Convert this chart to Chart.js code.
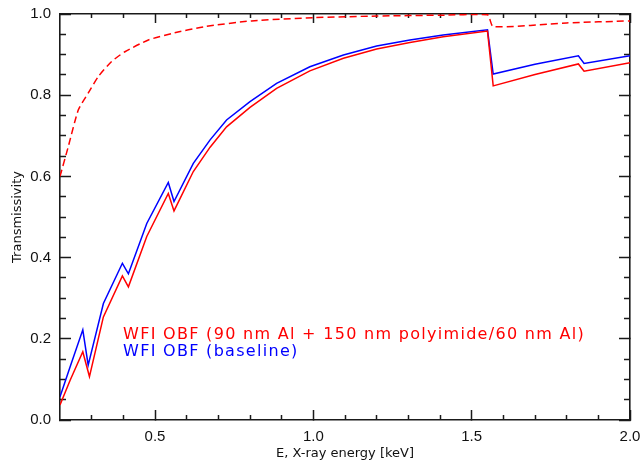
<!DOCTYPE html>
<html>
<head>
<meta charset="utf-8">
<script src="https://cdn.jsdelivr.net/npm/chart.js@4.4.1/dist/chart.umd.min.js"></script>
<style>
  html, body { margin: 0; padding: 0; background: #fff; }
</style>
</head>
<body>
<canvas id="chart" width="643" height="461"></canvas>
<script>
// baseline filter (blue)
const energyBase = [0.2, 0.232, 0.272, 0.289, 0.337, 0.397, 0.416, 0.474, 0.542, 0.56, 0.621, 0.674, 0.726, 0.8, 0.884, 0.989, 1.095, 1.2, 1.305, 1.41, 1.55, 1.568, 1.7, 1.837, 1.855, 2.0];
const transBase  = [0.057, 0.131, 0.222, 0.135, 0.287, 0.386, 0.36, 0.484, 0.585, 0.538, 0.632, 0.69, 0.739, 0.784, 0.829, 0.87, 0.899, 0.921, 0.936, 0.948, 0.961, 0.852, 0.876, 0.897, 0.878, 0.897];

// 90 nm Al + 150 nm polyimide / 60 nm Al (red solid)
const energyAlt = [0.2, 0.232, 0.272, 0.293, 0.337, 0.397, 0.416, 0.474, 0.542, 0.56, 0.621, 0.674, 0.726, 0.8, 0.884, 0.989, 1.095, 1.2, 1.305, 1.41, 1.55, 1.568, 1.7, 1.837, 1.855, 2.0];
const transAlt   = [0.037, 0.098, 0.168, 0.107, 0.254, 0.355, 0.328, 0.452, 0.558, 0.515, 0.612, 0.672, 0.722, 0.77, 0.817, 0.86, 0.891, 0.914, 0.93, 0.944, 0.958, 0.823, 0.851, 0.877, 0.859, 0.88];

// red dashed curve (no legend entry)
const energyDash = [0.2, 0.226, 0.258, 0.289, 0.321, 0.363, 0.405, 0.479, 0.553, 0.658, 0.805, 1.0, 1.2, 1.4, 1.55, 1.568, 1.8, 2.0];
const transDash  = [0.6, 0.673, 0.764, 0.805, 0.846, 0.883, 0.907, 0.936, 0.952, 0.969, 0.983, 0.991, 0.995, 0.997, 0.998, 0.969, 0.978, 0.983];

const xMin = 0.2, xMax = 2.0, yMin = 0, yMax = 1;
const xTicks = [0.5, 1.0, 1.5, 2.0];
const yTicks = [0.0, 0.2, 0.4, 0.6, 0.8, 1.0];
const xMinorTicks = [0.3, 0.4, 0.6, 0.7, 0.8, 0.9, 1.1, 1.2, 1.3, 1.4, 1.6, 1.7, 1.8, 1.9];
const yMinorTicks = [0.05, 0.1, 0.15, 0.25, 0.3, 0.35, 0.45, 0.5, 0.55, 0.65, 0.7, 0.75, 0.85, 0.9, 0.95];

const legendLabels = ["WFI OBF (90 nm Al + 150 nm polyimide/60 nm Al)", "WFI OBF (baseline)"];
const legendColors = ["#ff0000", "#0000ff"];

const pts = (xs, ys) => xs.map((x, i) => ({ x: x, y: ys[i] }));
const axisColor = "#1a1a1a";
const labelFont = { family: "'Liberation Sans'", size: 15 };

// one axis of the IDL box: inward ticks (negative tickLength), optional labels
function boxAxis(pos, min, max, tickVals, len, opts) {
  const horiz = pos === "top" || pos === "bottom";
  return Object.assign({
    type: "linear",
    position: pos,
    min: min,
    max: max,
    weight: opts.labels ? 0 : -1,
    afterBuildTicks: s => { s.ticks = tickVals.map(v => ({ value: v })); },
    afterFit: s => {
      if (horiz) { s.height = opts.size || 0; s.paddingLeft = 0; s.paddingRight = 0; }
      else { s.width = opts.size || 0; s.paddingTop = 0; s.paddingBottom = 0; }
    },
    grid: { display: true, drawOnChartArea: false, drawTicks: true, tickLength: -len, tickColor: axisColor, tickWidth: 1.5 },
    border: { display: !!opts.border, color: axisColor, width: 1.6 },
    ticks: {
      display: !!opts.labels,
      autoSkip: false,
      maxRotation: 0,
      padding: (opts.pad || 0) + len,
      color: "#111",
      font: labelFont,
      callback: v => v.toFixed(1)
    }
  }, opts.extra || {});
}

// legend text placed inside the plot
const legendText = {
  id: "legendText",
  afterDraw(chart) {
    const c = chart.ctx;
    const sx = chart.scales.x, sy = chart.scales.y;
    c.save();
    c.font = "16px 'DejaVu Sans'";
    c.textBaseline = "middle";
    const w0 = c.measureText(legendLabels[0]).width;
    c.letterSpacing = ((462 - w0) / legendLabels[0].length).toFixed(2) + "px";
    const lx = sx.getPixelForValue(0.399);
    [0.209, 0.167].forEach((v, i) => {
      c.fillStyle = legendColors[i];
      c.fillText(legendLabels[i], lx, sy.getPixelForValue(v));
    });
    c.restore();
  }
};

new Chart(document.getElementById("chart"), {
  type: "line",
  data: {
    datasets: [
      { data: pts(energyDash, transDash), borderColor: "#ff0000", borderWidth: 1.5, borderDash: [7, 4], pointRadius: 0, tension: 0.2 },
      { data: pts(energyAlt, transAlt), borderColor: "#ff0000", borderWidth: 1.5, pointRadius: 0, tension: 0 },
      { data: pts(energyBase, transBase), borderColor: "#0000ff", borderWidth: 1.5, pointRadius: 0, tension: 0 }
    ]
  },
  options: {
    responsive: false,
    animation: false,
    layout: { padding: { top: 14, right: 13, left: 0, bottom: 0 } },
    plugins: { legend: { display: false }, tooltip: { enabled: false } },
    scales: {
      x: boxAxis("bottom", xMin, xMax, xTicks, 10, {
        labels: true, border: true, size: 41, pad: 8,
        extra: { title: { display: true, text: "E, X-ray energy [keV]", color: "#111", font: { family: "'DejaVu Sans'", size: 13 }, padding: { top: 0, bottom: 0 } } }
      }),
      xMinor: boxAxis("bottom", xMin, xMax, xMinorTicks, 5, {}),
      xTop: boxAxis("top", xMin, xMax, xTicks, 9, { border: true }),
      xTopMinor: boxAxis("top", xMin, xMax, xMinorTicks, 4, {}),
      y: boxAxis("left", yMin, yMax, yTicks, 11, {
        labels: true, border: true, size: 60, pad: 9,
        extra: { title: { display: true, text: "Transmissivity", color: "#111", font: { family: "'DejaVu Sans'", size: 13 }, padding: { top: 10, bottom: 0 } } }
      }),
      yMinor: boxAxis("left", yMin, yMax, yMinorTicks, 6, {}),
      yRight: boxAxis("right", yMin, yMax, yTicks, 11, { border: true }),
      yRightMinor: boxAxis("right", yMin, yMax, yMinorTicks, 6, {})
    }
  },
  plugins: [legendText]
});
</script>
</body>
</html>
